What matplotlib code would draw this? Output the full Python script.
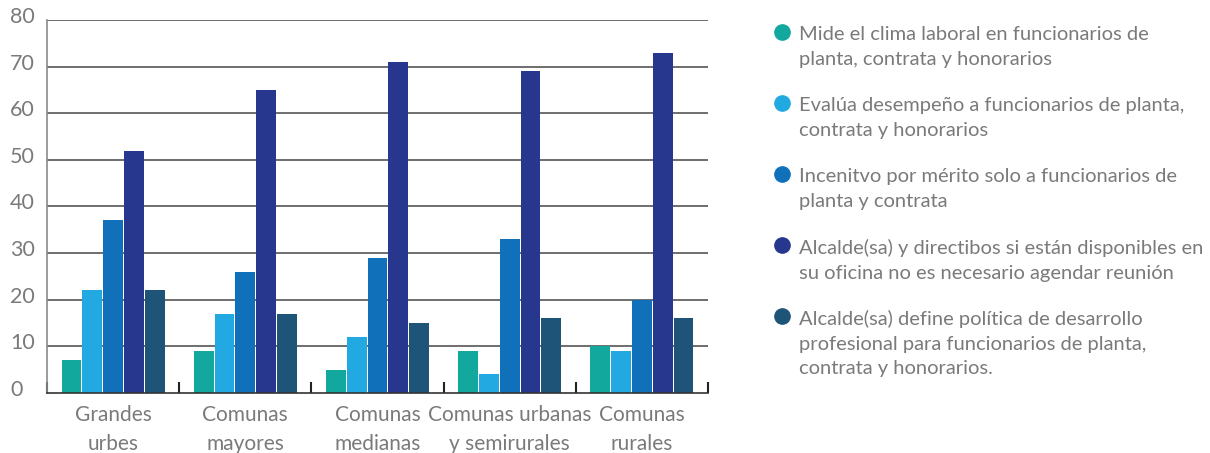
import matplotlib
matplotlib.use("Agg")
import matplotlib.pyplot as plt
import matplotlib.transforms as mtransforms
import numpy as np

categories = ["Grandes\nurbes", "Comunas\nmayores", "Comunas\nmedianas",
              "Comunas urbanas\ny semirurales", "Comunas\nrurales"]
series_names = [
    "Mide el clima laboral en funcionarios de\nplanta, contrata y honorarios",
    "Evalúa desempeño a funcionarios de planta,\ncontrata y honorarios",
    "Incenitvo por mérito solo a funcionarios de\nplanta y contrata",
    "Alcalde(sa) y directibos si están disponibles en\nsu oficina no es necesario agendar reunión",
    "Alcalde(sa) define política de desarrollo\nprofesional para funcionarios de planta,\ncontrata y honorarios.",
]
clima = [7, 9, 5, 9, 10]
evalua = [22, 17, 12, 4, 9]
incentivo = [37, 26, 29, 33, 20]
alcalde_disp = [52, 65, 71, 69, 73]
alcalde_pol = [22, 17, 15, 16, 16]
series = [clima, evalua, incentivo, alcalde_disp, alcalde_pol]
colors = ["#12A89D", "#23A9E1", "#1071BA", "#28378E", "#1F5479"]
yticks = [0, 10, 20, 30, 40, 50, 60, 70, 80]

plt.rcParams['font.family'] = ['Lato', 'DejaVu Sans']
txt_color = "#7a7a7a"

W, H = 1210, 453
fig = plt.figure(figsize=(W / 100, H / 100), dpi=100)
ax = fig.add_axes([47 / W, (H - 393) / H, (708 - 47) / W, (393 - 20) / H])

pitch = 0.1576
width = 0.15
x = np.arange(len(categories)) + 0.5
for j, (vals, c) in enumerate(zip(series, colors)):
    ax.bar(x + (j - 2) * pitch, vals, width=width, color=c, zorder=3)

ax.set_xlim(0, 5)
ax.set_ylim(0, 80)

for yv in yticks[1:]:
    ax.axhline(yv, color="#555555", lw=1.2, zorder=1)

for s in ["top", "right"]:
    ax.spines[s].set_visible(False)
ax.spines["left"].set_color("#8a8a8a")
ax.spines["left"].set_linewidth(1.2)
ax.spines["bottom"].set_color("#333333")
ax.spines["bottom"].set_linewidth(1.2)
ax.spines["bottom"].set_zorder(4)

ax.set_xticks(np.arange(0, 6))
ax.set_xticklabels([])
ax.tick_params(axis="x", direction="in", length=8, width=1.5, color="#222222")
ax.set_yticks([])

# y labels
ytr = mtransforms.offset_copy(ax.get_yaxis_transform(), fig=fig, x=0, y=3, units="dots")
for yv in yticks:
    ax.text(-37 / 661, yv, str(yv), transform=ytr, ha="left", va="center",
            fontsize=15.5, color=txt_color)

# category labels
for xi, lab in zip(x, categories):
    ax.text(xi, -2.6, lab, ha="center", va="top", fontsize=15, color=txt_color,
            linespacing=1.55, transform=ax.transData)

# legend
lax = fig.add_axes([0, 0, 1, 1])
lax.set_xlim(0, W)
lax.set_ylim(H, 0)
lax.axis("off")
ys = [34, 105, 176, 247, 318]
for yy, name, c in zip(ys, series_names, colors):
    lax.plot([782], [yy - 2], "o", ms=11, color=c)
    lax.text(799, yy - 8, name, ha="left", va="top", fontsize=14.5, color=txt_color,
             linespacing=1.55)

fig.savefig("out.png", dpi=100)
